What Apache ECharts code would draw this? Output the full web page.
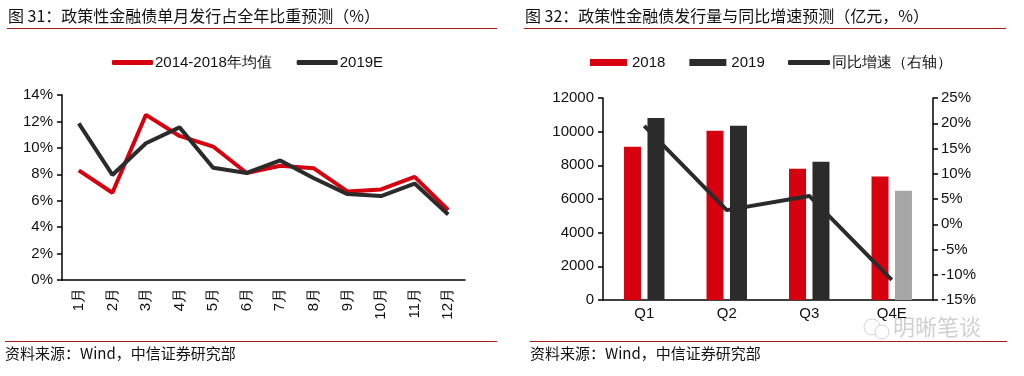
<!DOCTYPE html>
<html><head><meta charset="utf-8">
<script src="https://cdn.jsdelivr.net/npm/echarts@6/dist/echarts.min.js"></script>
<style>html,body{margin:0;padding:0;background:#fff}#c{width:1024px;height:376px}</style>
</head><body><div id="c"></div>
<script>
// ---- Data ----
const months = ['1月','2月','3月','4月','5月','6月','7月','8月','9月','10月','11月','12月'];
const avg2014_2018 = [8.3, 6.6, 12.5, 10.9, 10.1, 8.1, 8.65, 8.45, 6.7, 6.85, 7.8, 5.3];
const est2019 = [11.85, 7.95, 10.35, 11.55, 8.5, 8.1, 9.05, 7.7, 6.5, 6.35, 7.3, 4.95];
const quarters = ['Q1','Q2','Q3','Q4E'];
const issue2018 = [9100, 10060, 7800, 7340];
const issue2019 = [10810, 10350, 8210, 6490];
const yoyGrowth = [19.5, 2.8, 5.6, -11.0];
const title1 = '图 31：政策性金融债单月发行占全年比重预测（%）';
const title2 = '图 32：政策性金融债发行量与同比增速预测（亿元，%）';
const sourceText = '资料来源：Wind，中信证券研究部';

const RED = '#D7000F', DARK = '#2B2B2B', GRAY = '#A6A6A6';
const LAT = 'Liberation Sans, Arial, sans-serif';
const CJK = '"Noto Sans CJK SC", sans-serif';

const chart = echarts.init(document.getElementById('c'));
const axisLine = {show:true, lineStyle:{color:'#000', width:1.5}};
const tick = {show:true, length:5, lineStyle:{color:'#000', width:1.5}};
const lbl = {color:'#111', fontSize:15, fontFamily:LAT};
const legText = {fontSize:15, fontFamily:LAT, color:'#111'};

chart.setOption({
  animation:false,
  graphic:[
    {type:'text', left:8, top:8, style:{text:title1, fontSize:16, fontFamily:CJK, fill:'#111'}},
    {type:'text', left:525, top:8, style:{text:title2, fontSize:16, fontFamily:CJK, fill:'#111'}},
    {type:'line', shape:{x1:7,y1:28.5,x2:497,y2:28.5}, style:{stroke:'#A8191E', lineWidth:1.2}},
    {type:'line', shape:{x1:524,y1:28.5,x2:1006,y2:28.5}, style:{stroke:'#A8191E', lineWidth:1.2}},
    {type:'line', shape:{x1:5,y1:341.5,x2:497,y2:341.5}, style:{stroke:'#A8191E', lineWidth:1.2}},
    {type:'line', shape:{x1:530,y1:341.5,x2:1007,y2:341.5}, style:{stroke:'#A8191E', lineWidth:1.2}},
    {type:'text', left:5, top:346, style:{text:sourceText, fontSize:15, fontFamily:CJK, fill:'#111'}},
    {type:'text', left:530, top:346, style:{text:sourceText, fontSize:15, fontFamily:CJK, fill:'#111'}},
    {type:'text', left:893, top:316, style:{text:'明晰笔谈', fontSize:22, fontFamily:CJK, fill:'rgba(170,170,170,0.55)'}},
    {type:'circle', shape:{cx:872,cy:327,r:8}, style:{fill:'none', stroke:'rgba(170,170,170,0.5)', lineWidth:1}},
    {type:'circle', shape:{cx:882,cy:332,r:7}, style:{fill:'#fff', stroke:'rgba(170,170,170,0.5)', lineWidth:1}}
  ],
  legend:[
    {left:107, top:50, itemWidth:41, itemHeight:5, itemGap:25, icon:'roundRect',
     textStyle:{...legText, padding:[0,0,0,-3]},
     data:['2014-2018年均值','2019E']},
    {left:585, top:50, itemWidth:37, itemHeight:7, itemGap:24, icon:'rect',
     textStyle:legText, data:['2018','2019']},
    {left:783, top:50, itemWidth:42, itemHeight:5, icon:'roundRect',
     textStyle:{...legText, padding:[0,0,0,-3]}, data:['同比增速（右轴）']}
  ],
  grid:[
    {left:62, top:95, width:403, height:185},
    {left:603, top:98, width:330, height:202}
  ],
  xAxis:[
    {type:'category', gridIndex:0, data:months, boundaryGap:true, axisLine, axisTick:{show:false},
     axisLabel:{...lbl, rotate:90, margin:8}},
    {type:'category', gridIndex:1, data:quarters, axisLine, axisTick:{show:false},
     axisLabel:{...lbl, margin:6}}
  ],
  yAxis:[
    {type:'value', gridIndex:0, min:0, max:14, interval:2, axisLine, axisTick:tick, splitLine:{show:false},
     axisLabel:{...lbl, formatter:'{value}%', margin:9}},
    {type:'value', gridIndex:1, min:0, max:12000, interval:2000, axisLine, axisTick:tick, splitLine:{show:false},
     axisLabel:{...lbl, formatter:(v)=>String(v), margin:9}},
    {type:'value', gridIndex:1, position:'right', min:-15, max:25, interval:5, axisLine, axisTick:tick, splitLine:{show:false},
     axisLabel:{...lbl, formatter:'{value}%', margin:8}}
  ],
  series:[
    {name:'2014-2018年均值', type:'line', xAxisIndex:0, yAxisIndex:0, data:avg2014_2018, symbol:'none',
     lineStyle:{color:RED, width:4}, itemStyle:{color:RED}},
    {name:'2019E', type:'line', xAxisIndex:0, yAxisIndex:0, data:est2019, symbol:'none',
     lineStyle:{color:DARK, width:4}, itemStyle:{color:DARK}},
    {name:'2018', type:'bar', xAxisIndex:1, yAxisIndex:1, data:issue2018, barWidth:17, barGap:'38%',
     itemStyle:{color:RED}},
    {name:'2019', type:'bar', xAxisIndex:1, yAxisIndex:1, barWidth:17,
     data:issue2019.map((v,i)=> i===3 ? {value:v, itemStyle:{color:GRAY}} : v),
     itemStyle:{color:DARK}},
    {name:'同比增速（右轴）', type:'line', xAxisIndex:1, yAxisIndex:2, data:yoyGrowth, symbol:'none',
     lineStyle:{color:DARK, width:4}, itemStyle:{color:DARK}, z:5}
  ]
});
</script></body></html>
